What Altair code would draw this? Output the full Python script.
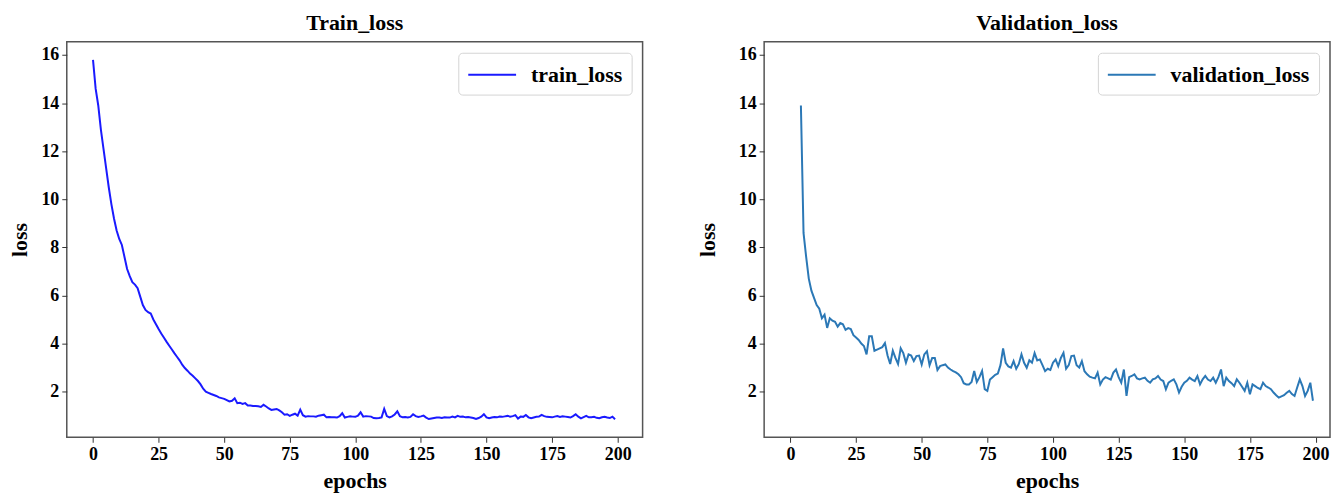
import altair as alt
import pandas as pd

# ---------------- data ----------------
train_loss = [
    15.8, 14.6, 13.9, 12.9, 12.1, 11.3, 10.5, 9.8, 9.2, 8.7,
    8.35, 8.1, 7.6, 7.1, 6.8, 6.55, 6.45, 6.3, 5.95, 5.6,
    5.4, 5.3, 5.25, 5.0, 4.8, 4.6, 4.42, 4.25, 4.08, 3.92,
    3.76, 3.6, 3.45, 3.3, 3.12, 2.98, 2.87, 2.75, 2.66, 2.55,
    2.44, 2.3, 2.12, 2.0, 1.95, 1.9, 1.86, 1.82, 1.76, 1.73,
    1.70, 1.65, 1.59, 1.62, 1.72, 1.52, 1.54, 1.49, 1.52, 1.42,
    1.42, 1.40, 1.40, 1.39, 1.36, 1.45, 1.38, 1.30, 1.24, 1.26,
    1.28, 1.22, 1.14, 1.04, 1.06, 0.99, 1.04, 1.08, 1.0, 1.25,
    1.02, 0.96, 0.98, 0.97, 0.97, 0.96, 1.0, 1.02, 1.04, 0.93,
    0.94, 0.93, 0.93, 0.92, 0.98, 1.1, 0.92, 0.95, 0.97, 0.96,
    0.95, 1.0, 1.14, 0.96, 0.98, 0.97, 0.96, 0.9, 0.89, 0.9,
    0.93, 1.28, 0.98, 0.93, 0.97, 1.05, 1.18, 0.98, 0.93, 0.94,
    0.92, 0.95, 1.06, 0.98, 0.95, 0.97, 1.0, 0.92, 0.86, 0.88,
    0.9, 0.92, 0.92, 0.9, 0.93, 0.92, 0.92, 0.96, 0.93, 0.99,
    0.95, 0.96, 0.93, 0.94, 0.92, 0.9, 0.86, 0.9, 0.96, 1.06,
    0.93, 0.89, 0.92, 0.94, 0.93, 0.96, 0.95, 0.97, 0.99, 0.96,
    0.98, 1.02, 0.88, 0.96, 0.95, 1.03, 0.93, 0.89, 0.92, 0.95,
    0.96, 1.03, 0.98, 0.95, 0.94, 0.93, 0.96, 0.98, 0.95, 0.97,
    0.96, 0.94, 0.92, 0.98, 1.06, 0.96, 0.89, 0.94, 0.99, 0.93,
    0.93, 0.95, 0.91, 0.89, 0.93, 0.95, 0.92, 0.9, 0.96, 0.85,
]
train_epochs = list(range(0, 200))

val_loss = [
    13.9, 8.6, 7.6, 6.7, 6.2, 5.9,                      # 4-9
    5.6, 5.45, 5.05, 5.2, 4.65, 5.05, 4.95, 4.9, 4.7, 4.85,   # 10-19
    4.8, 4.57, 4.64, 4.6, 4.35, 4.25, 4.15, 4.0, 3.9, 3.55,   # 20-29
    4.3, 4.3, 3.7, 3.75, 3.8, 3.85, 4.02, 3.5, 3.15, 3.7,     # 30-39
    3.4, 3.15, 3.8, 3.6, 3.2, 3.55, 3.5, 3.27, 3.48, 3.5,     # 40-49
    3.13, 3.55, 3.68, 3.1, 3.4, 3.4, 2.9, 3.06, 3.1, 3.13,    # 50-59
    3.0, 2.92, 2.85, 2.8, 2.72, 2.6, 2.35, 2.3, 2.3, 2.4,     # 60-69
    2.86, 2.4, 2.6, 2.86, 2.1, 2.03, 2.5, 2.6, 2.7, 2.75,     # 70-79
    3.1, 3.8, 3.2, 3.05, 3.0, 3.27, 2.95, 3.15, 3.55, 3.2,    # 80-89
    2.99, 3.3, 3.2, 3.6, 3.3, 3.34, 3.1, 2.85, 2.95, 2.9,     # 90-99
    3.2, 3.34, 3.06, 3.4, 3.61, 2.95, 3.1, 3.48, 3.5, 3.1,    # 100-109
    3.0, 3.27, 2.85, 2.72, 2.62, 2.58, 2.55, 2.79, 2.3, 2.5,  # 110-119
    2.6, 2.55, 2.5, 2.79, 2.92, 2.6, 2.37, 2.92, 1.82, 2.6,   # 120-129
    2.65, 2.72, 2.55, 2.51, 2.55, 2.58, 2.45, 2.37, 2.51, 2.55,  # 130-139
    2.65, 2.5, 2.44, 2.1, 2.37, 2.45, 2.51, 2.3, 1.96, 2.2,   # 140-149
    2.37, 2.45, 2.58, 2.5, 2.44, 2.65, 2.3, 2.51, 2.65, 2.5,  # 150-159
    2.44, 2.58, 2.37, 2.6, 2.92, 2.23, 2.58, 2.44, 2.35, 2.23,  # 160-169
    2.51, 2.37, 2.2, 2.03, 2.37, 1.89, 2.3, 2.23, 2.15, 2.1,  # 170-179
    2.37, 2.23, 2.17, 2.1, 1.96, 1.85, 1.75, 1.8, 1.85, 1.95,  # 180-189
    2.03, 1.9, 1.82, 2.17, 2.51, 2.23, 1.82, 2.03, 2.37, 1.62,  # 190-199
]
val_epochs = list(range(4, 200))

x_ticks = [0, 25, 50, 75, 100, 125, 150, 175, 200]
y_ticks = [2, 4, 6, 8, 10, 12, 14, 16]

FONT = "Liberation Serif"

train_df = pd.DataFrame({"epoch": train_epochs, "loss": train_loss, "series": "train_loss"})
val_df = pd.DataFrame({"epoch": val_epochs, "loss": val_loss, "series": "validation_loss"})


def panel(df, name, color, title, width, x_domain, y_title_pad):
    return (
        alt.Chart(df)
        .mark_line(strokeWidth=2)
        .encode(
            x=alt.X(
                "epoch:Q",
                scale=alt.Scale(domain=x_domain, nice=False, zero=False),
                axis=alt.Axis(values=x_ticks, title="epochs", titlePadding=7,
                              labelFlush=False),
            ),
            y=alt.Y(
                "loss:Q",
                scale=alt.Scale(domain=[0.1, 16.55], nice=False, zero=False),
                axis=alt.Axis(values=y_ticks, title="loss", titlePadding=y_title_pad),
            ),
            color=alt.Color(
                "series:N",
                scale=alt.Scale(domain=[name], range=[color]),
                legend=alt.Legend(
                    title=None,
                    orient="top-right",
                    offset=11,
                    strokeColor="#d4d4d4",
                    fillColor="white",
                    cornerRadius=4,
                    padding=9,
                    symbolType="M-1,0H3",
                    symbolSize=576,
                    symbolStrokeWidth=2,
                    labelFont=FONT,
                    labelFontSize=22,
                    labelFontWeight="bold",
                    labelColor="black",
                    labelOffset=38,
                ),
            ),
        )
        .properties(
            width=width,
            height=397,
            title=alt.TitleParams(title, font=FONT, fontSize=22, fontWeight="bold",
                                  color="black", anchor="middle", offset=7),
        )
    )


left = panel(train_df, "train_loss", "#1a1aff", "Train_loss", 578, [-10, 209.5], 9)
right = panel(val_df, "validation_loss", "#2b78b6", "Validation_loss", 568, [-10, 205.5], 19)

chart = (
    alt.hconcat(left, right, spacing=52)
    .resolve_scale(color="independent")
    .properties(padding={"left": 0, "top": 2, "right": 0, "bottom": 0})
    .configure_view(stroke="#555555", strokeWidth=1.5)
    .configure_axis(
        grid=False,
        domain=False,
        tickColor="#333333",
        tickSize=5,
        tickWidth=1,
        labelFont=FONT,
        labelFontSize=18,
        labelFontWeight="bold",
        labelColor="black",
        labelPadding=3,
        titleFont=FONT,
        titleFontSize=22,
        titleFontWeight="bold",
        titleColor="black",
    )
)

chart.save("out.html", embed_options={"renderer": "svg", "actions": False})
